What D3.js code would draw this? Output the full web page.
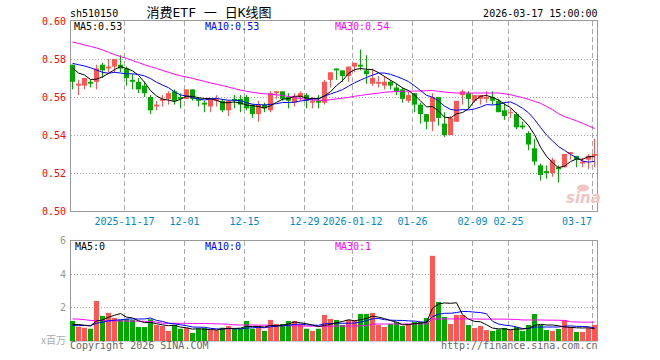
<!DOCTYPE html>
<html><head><meta charset="utf-8">
<script src="https://cdn.jsdelivr.net/npm/d3@7"></script>
<style>body{margin:0;background:#fff}svg{display:block}</style>
</head><body><svg id="c" width="660" height="360"></svg>
<script>
const dates = [
"2025-11-04","2025-11-05","2025-11-06","2025-11-07","2025-11-10","2025-11-11","2025-11-12","2025-11-13","2025-11-14",
"2025-11-17","2025-11-18","2025-11-19","2025-11-20","2025-11-21","2025-11-24","2025-11-25","2025-11-26","2025-11-27","2025-11-28",
"2025-12-01","2025-12-02","2025-12-03","2025-12-04","2025-12-05","2025-12-08","2025-12-09","2025-12-10","2025-12-11","2025-12-12",
"2025-12-15","2025-12-16","2025-12-17","2025-12-18","2025-12-19","2025-12-22","2025-12-23","2025-12-24","2025-12-25","2025-12-26",
"2025-12-29","2025-12-30","2025-12-31","2026-01-05","2026-01-06","2026-01-07","2026-01-08","2026-01-09",
"2026-01-12","2026-01-13","2026-01-14","2026-01-15","2026-01-16","2026-01-19","2026-01-20","2026-01-21","2026-01-22","2026-01-23",
"2026-01-26","2026-01-27","2026-01-28","2026-01-29","2026-01-30","2026-02-02","2026-02-03","2026-02-04","2026-02-05","2026-02-06",
"2026-02-09","2026-02-10","2026-02-11","2026-02-12","2026-02-13","2026-02-24","2026-02-25","2026-02-26","2026-02-27",
"2026-03-02","2026-03-03","2026-03-04","2026-03-05","2026-03-06","2026-03-09","2026-03-10","2026-03-11","2026-03-12","2026-03-13",
"2026-03-16","2026-03-17"];
const open = [
.577,.566,.566,.568,.568,.577,.575,.576,.577,.575,
.569,.568,.566,.560,.555,.558,.559,.563,.560,.559,
.564,.559,.557,.555,.558,.558,.553,.559,.559,.560,
.556,.551,.556,.553,.562,.563,.560,.557,.560,.561,
.557,.558,.557,.569,.575,.574,.571,.576,.577,.574,
.567,.567,.566,.568,.565,.564,.558,.562,.556,.551,
.547,.560,.546,.540,.547,.561,.562,.558,.559,.559,
.560,.558,.553,.552,.551,.545,.541,.533,.524,.521,
.520,.523,.523,.530,.529,.525,.527,.529];
const high = [
.577,.569,.570,.569,.577,.578,.580,.580,.582,.576,
.572,.570,.568,.561,.558,.561,.563,.564,.562,.564,
.564,.560,.558,.559,.561,.559,.558,.561,.561,.561,
.556,.558,.557,.563,.563,.563,.562,.562,.563,.562,
.560,.561,.569,.573,.575,.574,.576,.578,.585,.582,
.575,.571,.571,.569,.567,.565,.563,.562,.557,.551,
.562,.560,.552,.550,.558,.564,.563,.561,.561,.563,
.563,.559,.557,.554,.552,.547,.542,.538,.525,.524,
.528,.524,.530,.531,.529,.528,.530,.538];
const low = [
.564,.561,.564,.565,.564,.570,.573,.573,.573,.566,
.564,.562,.560,.551,.553,.555,.556,.556,.554,.559,
.558,.555,.552,.552,.555,.552,.550,.554,.552,.553,
.549,.547,.552,.552,.559,.558,.554,.555,.558,.554,
.554,.554,.556,.565,.569,.568,.568,.573,.574,.567,
.566,.565,.564,.564,.561,.557,.557,.552,.546,.543,
.542,.545,.539,.540,.547,.556,.554,.557,.556,.557,
.556,.552,.548,.549,.543,.543,.532,.524,.516,.517,
.518,.515,.523,.527,.523,.523,.522,.523];
const close = [
.568,.567,.570,.567,.575,.574,.576,.580,.575,.570,
.568,.564,.562,.553,.556,.559,.562,.558,.559,.564,
.559,.558,.556,.559,.559,.553,.558,.558,.556,.554,
.551,.556,.554,.562,.563,.559,.558,.560,.562,.558,
.558,.557,.568,.573,.574,.571,.576,.578,.576,.572,
.570,.568,.568,.566,.563,.559,.561,.556,.551,.547,
.560,.549,.540,.549,.558,.563,.559,.561,.561,.560,
.558,.552,.550,.552,.544,.544,.535,.526,.519,.520,
.527,.522,.530,.531,.527,.526,.529,.530];
const volume = [
1.19,0.85,0.79,0.73,2.38,1.49,1.67,1.37,1.25,1.31,
1.25,0.83,0.83,1.29,0.95,0.89,0.60,0.95,0.73,0.77,
0.48,0.73,0.77,0.65,0.65,0.79,0.89,0.75,0.73,1.19,
0.73,0.89,0.60,1.25,1.01,1.01,1.19,1.19,1.01,0.73,
0.60,0.73,1.55,1.31,1.25,0.95,1.25,1.25,1.61,1.61,
1.67,0.95,0.83,1.01,1.13,0.89,1.01,1.13,1.13,1.37,
5.06,2.32,1.43,1.01,1.55,1.55,0.95,0.77,0.89,0.65,
0.60,0.69,0.77,0.65,0.83,0.60,0.95,1.61,0.95,0.65,
0.60,0.71,1.25,0.83,0.54,0.54,0.77,0.95];
// closes / volumes of the 9 sessions before the first one shown (estimated from the MA lines)
const priorClose = [.574,.577,.576,.587,.586,.581,.575,.579,.574];
const priorVolume = [.85,.90,.80,.95,.85,.90,1.00,.95,.91];
// 30-day averages
const ma30 = [
.5889,.5882,.5874,.5866,.5858,.5848,.5835,.5823,.5813,.5803,
.5792,.5781,.5770,.5760,.5750,.5740,.5730,.5720,.5712,.5705,
.5698,.5690,.5682,.5674,.5667,.5660,.5652,.5644,.5636,.5630,
.5625,.5620,.5617,.5614,.5612,.5608,.5603,.5598,.5592,.5587,
.5584,.5583,.5582,.5586,.5590,.5594,.5598,.5604,.5608,.5613,
.5617,.5620,.5625,.5627,.5629,.5630,.5631,.5631,.5632,.5633,
.5634,.5630,.5626,.5623,.5621,.5621,.5621,.5621,.5621,.5621,
.5621,.5621,.5617,.5612,.5604,.5597,.5588,.5577,.5567,.5550,
.5533,.5512,.5497,.5486,.5475,.5462,.5448,.5434];
const volMa30 = [
1.31,1.30,1.27,1.22,1.21,1.21,1.20,1.20,1.19,1.19,
1.18,1.18,1.17,1.16,1.12,1.06,1.05,1.05,1.05,1.05,
1.04,1.04,1.04,1.03,1.02,1.01,0.99,0.96,0.95,0.95,
0.95,0.94,0.94,0.93,0.92,0.91,0.90,0.90,0.89,0.88,
0.88,0.88,0.88,0.88,0.89,0.89,0.89,0.89,0.90,0.92,
1.00,1.01,1.01,1.01,1.01,1.01,1.01,1.01,1.01,1.02,
1.30,1.31,1.31,1.31,1.31,1.31,1.31,1.31,1.30,1.30,
1.30,1.30,1.30,1.29,1.28,1.25,1.25,1.25,1.25,1.24,
1.24,1.23,1.22,1.14,1.13,1.12,1.12,1.12];
const tickDates = ["2025-11-17","2025-12-01","2025-12-15","2025-12-29","2026-01-12","2026-01-26","2026-02-09","2026-02-25","2026-03-17"];
const tickLabels = ["2025-11-17","12-01","12-15","12-29","2026-01-12","01-26","02-09","02-25","03-17"];
const priceTicks = [0.50,0.52,0.54,0.56,0.58,0.60];
const volTicks = [2,4,6];

const RED = "#ff5555", GREEN = "#00a800";
const MONO = "'DejaVu Sans Mono', monospace";
const svg = d3.select("#c");
const L = 70, R = 598;
const x = d3.scaleBand().domain(dates).range([L, R]);
const y = d3.scaleLinear().domain([0.50, 0.60]).range([211, 21]);
const yv = d3.scaleLinear().domain([0, 6]).range([341, 240]);

function movingAvg(series, prior, n) {
  const all = prior.concat(series);
  return series.map((_, i) => d3.mean(all.slice(i + prior.length - n + 1, i + prior.length + 1)));
}
const ma5 = movingAvg(close, priorClose, 5);
const ma10 = movingAvg(close, priorClose, 10);
const vma5 = movingAvg(volume, priorVolume, 5);
const vma10 = movingAvg(volume, priorVolume, 10);

// top texts
svg.append("text").attr("x", 70).attr("y", 16.5).attr("font-family", MONO).attr("font-size", 10).text("sh510150");
svg.append("text").attr("x", 209).attr("y", 17).attr("text-anchor", "middle")
  .attr("font-family", "'DejaVu Sans Mono','Noto Sans CJK SC',sans-serif").attr("font-size", 13).text("消费ETF 一 日K线图");
svg.append("text").attr("x", 597.5).attr("y", 16.5).attr("text-anchor", "end").attr("font-family", MONO).attr("font-size", 10).text("2026-03-17 15:00:00");

// panels
function panel(top, bottom) {
  svg.append("rect").attr("x", L + 0.5).attr("y", top + 0.5).attr("width", R - L - 1).attr("height", bottom - top)
    .attr("fill", "none").attr("stroke", "#999");
}
panel(20, 211);
panel(240, 340.5);

// horizontal dotted grid
const grid = svg.append("g").attr("stroke", "#aaa").attr("stroke-dasharray", "1,2");
priceTicks.filter(t => t > 0.505 && t < 0.595).forEach(t => {
  const yy = Math.round(y(t)) + 0.5;
  grid.append("line").attr("x1", L + 1).attr("x2", R - 1).attr("y1", yy).attr("y2", yy);
});
volTicks.filter(t => t < 6).forEach(t => {
  const yy = Math.round(yv(t)) + 0.5;
  grid.append("line").attr("x1", L + 1).attr("x2", R - 1).attr("y1", yy).attr("y2", yy);
});
// vertical dashed grid
const vg = svg.append("g").attr("stroke", "#aaa").attr("stroke-dasharray", "5,3");
tickDates.forEach(d => {
  const xx = x(d) + 0.5;
  vg.append("line").attr("x1", xx).attr("x2", xx).attr("y1", 21).attr("y2", 211);
  vg.append("line").attr("x1", xx).attr("x2", xx).attr("y1", 241).attr("y2", 340);
});

// axis labels
const pl = svg.append("g").attr("font-family", MONO).attr("font-size", 10).attr("fill", "#ff0000").attr("text-anchor", "end");
priceTicks.forEach(t => pl.append("text").attr("x", 66).attr("y", y(t) + 3.5).text(t.toFixed(2)));
const vl = svg.append("g").attr("font-family", MONO).attr("font-size", 10).attr("fill", "#999").attr("text-anchor", "end");
volTicks.forEach(t => vl.append("text").attr("x", 66).attr("y", yv(t) + 4).text(t));
svg.append("text").attr("x", 66).attr("y", 344).attr("text-anchor", "end").attr("font-family", "'Noto Sans CJK SC',sans-serif")
  .attr("font-size", 10).attr("fill", "#aaa").text("x百万");

const dl = svg.append("g").attr("font-family", MONO).attr("font-size", 10).attr("fill", "#0088cc");
tickDates.forEach((d, k) => {
  const cx = x(d) + 0.5;
  const t = dl.append("text").attr("y", 225).text(tickLabels[k]);
  const w = tickLabels[k].length * 6;
  if (cx + w / 2 > R - 6) t.attr("x", R - 6).attr("text-anchor", "end");
  else t.attr("x", cx).attr("text-anchor", "middle");
});

// sina watermark
svg.append("text").attr("x", 566).attr("y", 203).attr("font-family", "'DejaVu Sans',sans-serif").attr("font-style", "italic")
  .attr("font-weight", "bold").attr("font-size", 15).attr("fill", "#f2c4c4").text("sina");
svg.append("ellipse").attr("cx", 583).attr("cy", 188).attr("rx", 6).attr("ry", 3.5).attr("fill", "#f2c4c4");

// candles
const idx = d3.range(dates.length);
const cg = svg.append("g");
idx.forEach(i => {
  const up = close[i] >= open[i];
  const col = up ? RED : GREEN;
  const xx = x(dates[i]);
  cg.append("line").attr("x1", xx + 2.5).attr("x2", xx + 2.5).attr("y1", y(high[i])).attr("y2", y(low[i]))
    .attr("stroke", col).attr("stroke-width", 1);
  const y1 = y(Math.max(open[i], close[i])), y2 = y(Math.min(open[i], close[i]));
  cg.append("rect").attr("x", xx).attr("y", y1).attr("width", x.bandwidth() - 1).attr("height", Math.max(1, y2 - y1)).attr("fill", col);
});

// volume bars
const vb = svg.append("g");
idx.forEach(i => {
  const up = close[i] >= open[i];
  vb.append("rect").attr("x", x(dates[i])).attr("y", yv(volume[i])).attr("width", x.bandwidth() - 1)
    .attr("height", 341 - yv(volume[i])).attr("fill", up ? RED : GREEN);
});

// MA lines
function maLine(vals, ys, color) {
  const line = d3.line().x((v, i) => x(dates[i]) + 2.5).y(v => ys(v));
  svg.append("path").attr("d", line(vals)).attr("fill", "none").attr("stroke", color).attr("stroke-width", 1);
}
maLine(ma30, y, "#ff00ff");
maLine(ma10, y, "#0000ff");
maLine(ma5, y, "#000000");
maLine(volMa30, yv, "#ff00ff");
maLine(vma10, yv, "#0000ff");
maLine(vma5, yv, "#000000");

// legends
const last = a => a[a.length - 1];
const lg = svg.append("g").attr("font-family", MONO).attr("font-size", 10);
lg.append("text").attr("x", 74).attr("y", 30).attr("fill", "#000").text("MA5:" + last(ma5).toFixed(2));
lg.append("text").attr("x", 205).attr("y", 30).attr("fill", "#0000ff").text("MA10:" + last(ma10).toFixed(2));
lg.append("text").attr("x", 335).attr("y", 30).attr("fill", "#ff00ff").text("MA30:" + last(ma30).toFixed(2));
lg.append("text").attr("x", 75).attr("y", 250).attr("fill", "#000").text("MA5:" + Math.floor(last(vma5)));
lg.append("text").attr("x", 205).attr("y", 250).attr("fill", "#0000ff").text("MA10:" + Math.floor(last(vma10)));
lg.append("text").attr("x", 335).attr("y", 250).attr("fill", "#ff00ff").text("MA30:" + Math.floor(last(volMa30)));

// footer
svg.append("text").attr("x", 70).attr("y", 349).attr("font-family", MONO).attr("font-size", 10).attr("fill", "#666").text("Copyright 2026 SINA.COM");
svg.append("text").attr("x", 597.5).attr("y", 349).attr("text-anchor", "end").attr("font-family", MONO).attr("font-size", 10).attr("fill", "#666").text("http://finance.sina.com.cn");
</script></body></html>
